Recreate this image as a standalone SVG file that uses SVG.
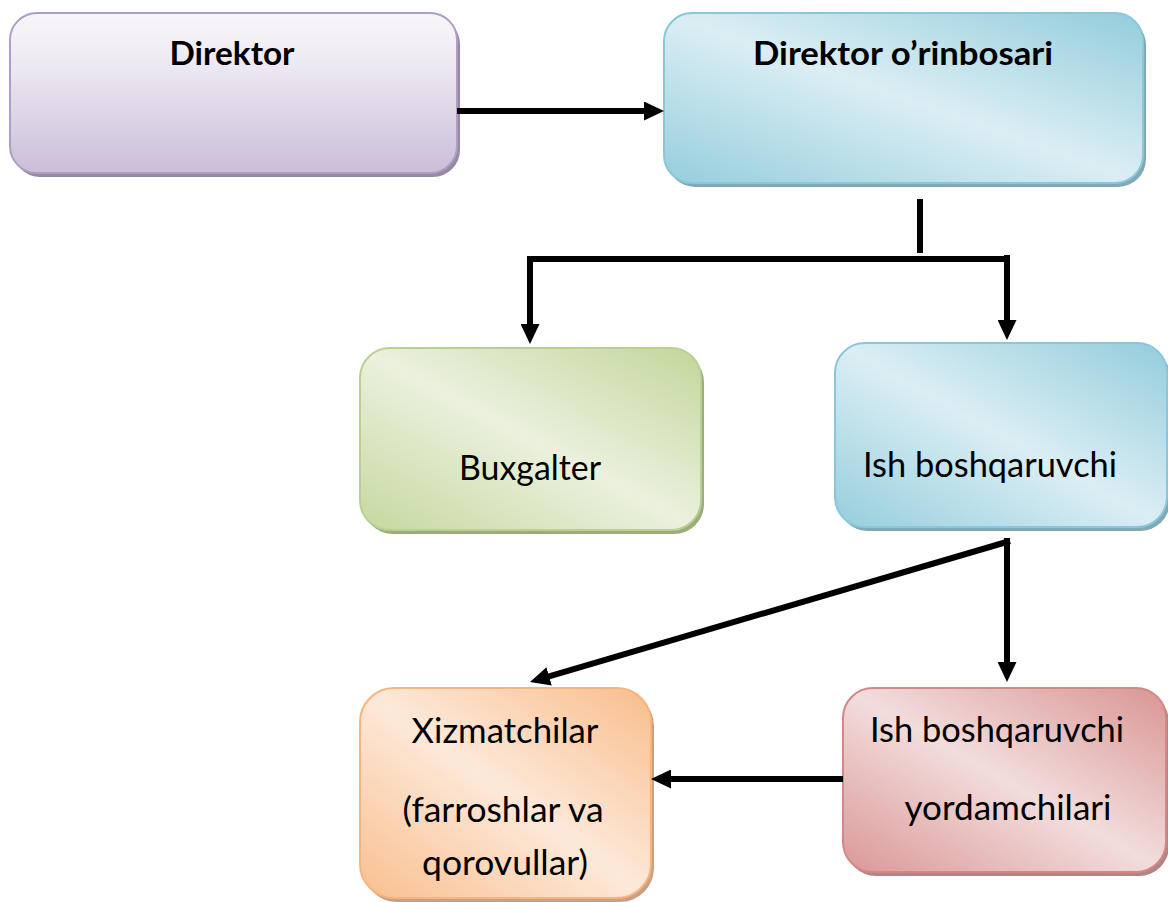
<svg xmlns="http://www.w3.org/2000/svg" width="1168" height="902" viewBox="0 0 1168 902">
<style>
.t{font-family:Lato,"Liberation Sans",sans-serif;font-size:34px;fill:#000}
.b{font-weight:bold;font-size:32px}
.c{stroke:#000;stroke-width:6;fill:none}
</style>
<defs>
<marker id="ah" markerUnits="userSpaceOnUse" viewBox="0 0 20 19" markerWidth="20" markerHeight="19" refX="1" refY="9.5" orient="auto">
<path d="M0,0 L20,9.5 L0,19 z" fill="#000"/>
</marker>
<linearGradient id="gp" x1="0" y1="0" x2="0" y2="1">
<stop offset="0" stop-color="#f8f6fa"/><stop offset="0.3" stop-color="#eeeaf3"/><stop offset="1" stop-color="#cbbed9"/>
</linearGradient>
<linearGradient id="gb" x1="1" y1="0" x2="0" y2="1">
<stop offset="0" stop-color="#93cddc"/><stop offset="0.5" stop-color="#dbeef4"/><stop offset="1" stop-color="#96cedd"/>
</linearGradient>
<linearGradient id="gg" x1="1" y1="0" x2="0" y2="1">
<stop offset="0" stop-color="#c3d69b"/><stop offset="0.5" stop-color="#ebf1de"/><stop offset="1" stop-color="#c6d89f"/>
</linearGradient>
<linearGradient id="go" x1="1" y1="0" x2="0" y2="1">
<stop offset="0" stop-color="#f9bd8c"/><stop offset="0.5" stop-color="#fde9d9"/><stop offset="1" stop-color="#f9bf8f"/>
</linearGradient>
<linearGradient id="gr" x1="1" y1="0" x2="0" y2="1">
<stop offset="0" stop-color="#d99594"/><stop offset="0.5" stop-color="#f2dddc"/><stop offset="1" stop-color="#da9897"/>
</linearGradient>
</defs>
<rect width="1168" height="902" fill="#fff"/>

<g id="direktor">
<rect x="13" y="17" width="447" height="160" rx="27" fill="#958aa2"/>
<rect x="10" y="13" width="447" height="160" rx="27" fill="url(#gp)" stroke="#ae9dc5" stroke-width="2"/>
<text class="t b" x="232" y="65" text-anchor="middle" textLength="125" lengthAdjust="spacingAndGlyphs">Direktor</text>
</g>

<g id="orinbosar">
<rect x="667" y="17" width="479" height="170" rx="28" fill="#7fa9b5"/>
<rect x="664" y="13" width="479" height="170" rx="28" fill="url(#gb)" stroke="#8ac8d9" stroke-width="2"/>
<text class="t b" x="903" y="65" text-anchor="middle" textLength="300" lengthAdjust="spacingAndGlyphs">Direktor o’rinbosari</text>
</g>

<g id="buxgalter">
<rect x="363" y="352" width="341" height="182" rx="30" fill="#9cac7c"/>
<rect x="360" y="348" width="341" height="182" rx="30" fill="url(#gg)" stroke="#b9d090" stroke-width="2"/>
<text class="t" x="530" y="480" text-anchor="middle" textLength="142" lengthAdjust="spacingAndGlyphs">Buxgalter</text>
</g>

<g id="ish">
<rect x="838" y="347" width="332" height="184" rx="30" fill="#7fa9b5"/>
<rect x="835" y="343" width="332" height="184" rx="30" fill="url(#gb)" stroke="#8ac8d9" stroke-width="2"/>
<text class="t" x="863" y="477" textLength="254" lengthAdjust="spacingAndGlyphs">Ish boshqaruvchi</text>
</g>

<g id="xizmatchilar">
<rect x="363" y="692" width="291" height="210" rx="34" fill="#c9a083"/>
<rect x="360" y="688" width="291" height="210" rx="34" fill="url(#go)" stroke="#f7b57e" stroke-width="2"/>
<text class="t" x="505" y="743" text-anchor="middle" textLength="187" lengthAdjust="spacingAndGlyphs">Xizmatchilar</text>
<text class="t" x="503" y="822" text-anchor="middle" textLength="201" lengthAdjust="spacingAndGlyphs">(farroshlar va</text>
<text class="t" x="505" y="875" text-anchor="middle" textLength="166" lengthAdjust="spacingAndGlyphs">qorovullar)</text>
</g>

<g id="yordamchilar">
<rect x="846" y="692" width="323" height="184" rx="30" fill="#b08583"/>
<rect x="843" y="688" width="323" height="184" rx="30" fill="url(#gr)" stroke="#d38886" stroke-width="2"/>
<text class="t" x="870" y="742" textLength="254" lengthAdjust="spacingAndGlyphs">Ish boshqaruvchi</text>
<text class="t" x="1008" y="820" text-anchor="middle" textLength="207" lengthAdjust="spacingAndGlyphs">yordamchilari</text>
</g>

<g id="connectors">
<path class="c" d="M457,111 H645" marker-end="url(#ah)"/>
<path class="c" d="M920,199 V253"/>
<path class="c" d="M527,259 H1010"/>
<path class="c" d="M530,259 V325" marker-end="url(#ah)"/>
<path class="c" d="M1007,255 V321" marker-end="url(#ah)"/>
<path class="c" d="M1010,541 L548.2,676.6" marker-end="url(#ah)"/>
<path class="c" d="M1007,538 V663" marker-end="url(#ah)"/>
<path class="c" d="M843,779 H670" marker-end="url(#ah)"/>
</g>
</svg>
